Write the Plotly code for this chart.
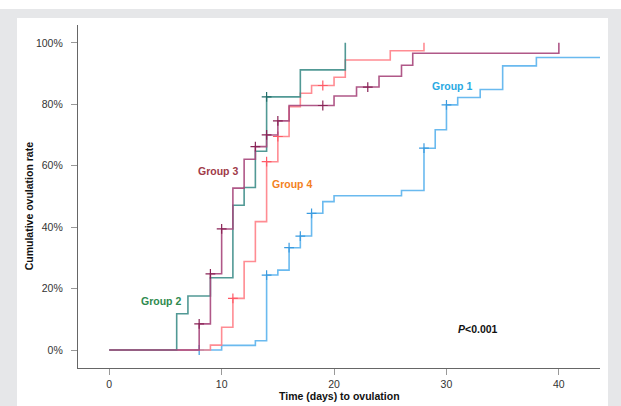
import plotly.graph_objects as go

# ---- data ----
g1_t = [0, 10, 13, 14, 15, 16, 17, 18, 19, 20, 26, 28, 29, 30, 31, 33, 35, 38, 44]
g1_v = [0, 1.5, 3.0, 24.4, 26.0, 33.3, 37.1, 44.5, 48.3, 50.2, 51.9, 65.7, 71.7, 79.8, 82.2, 84.8, 92.5, 95.2, 95.2]
g1_ct = [8, 14, 16, 17, 18, 28, 30]
g1_cv = [0, 24.4, 33.3, 37.1, 44.5, 65.7, 79.8]

g2_t = [0, 6, 7, 9, 11, 12, 13, 14, 17, 21]
g2_v = [0, 11.8, 17.6, 23.5, 47.1, 52.9, 64.7, 82.4, 91.2, 100]
g2_ct = [14]
g2_cv = [82.4]

g3_t = [0, 8, 9, 10, 11, 12, 13, 14, 15, 16, 20, 22, 24, 26, 27, 40]
g3_v = [0, 8.5, 24.8, 39.4, 52.7, 62.1, 66.2, 70.0, 74.6, 79.6, 82.7, 85.6, 89.1, 92.7, 96.6, 100]
g3_ct = [8, 9, 10, 13, 14, 15, 19, 23]
g3_cv = [8.5, 24.8, 39.4, 66.2, 70.0, 74.6, 79.6, 85.6]

g4_t = [0, 9, 10, 11, 12, 13, 14, 15, 16, 17, 18, 20, 21, 25, 28]
g4_v = [0, 1.6, 7.4, 16.8, 28.8, 41.8, 61.3, 69.5, 79.2, 83.6, 86.1, 88.8, 94.4, 97.4, 100]
g4_ct = [11, 14, 15, 19]
g4_cv = [16.8, 61.3, 69.5, 86.1]

x_ticks = [0, 10, 20, 30, 40]
y_ticks = [0, 20, 40, 60, 80, 100]
y_tick_labels = ["0%", "20%", "40%", "60%", "80%", "100%"]

groups = [
    ("Group 1", g1_t, g1_v, g1_ct, g1_cv, "#5ab3ee", "#3a9be0"),
    ("Group 4", g4_t, g4_v, g4_ct, g4_cv, "#ff8088", "#ff5a66"),
    ("Group 2", g2_t, g2_v, g2_ct, g2_cv, "#3f8e8a", "#226e6a"),
    ("Group 3", g3_t, g3_v, g3_ct, g3_cv, "#a8477c", "#8a2457"),
]

labels = [
    ("Group 1", 30.5, 85.9, "#2aa9e2"),
    ("Group 2", 4.6, 16.0, "#2e8a4e"),
    ("Group 3", 9.7, 58.3, "#a03a48"),
    ("Group 4", 16.3, 54.1, "#f37f22"),
]

FONT = "Liberation Sans, Arial"

fig = go.Figure()
for name, t, v, ct, cv, col, mcol in groups:
    fig.add_trace(go.Scatter(x=t, y=v, mode="lines", line=dict(color=col, width=1.6, shape="hv"),
                             opacity=0.9, name=name, showlegend=False, hoverinfo="skip"))
    fig.add_trace(go.Scatter(x=ct, y=cv, mode="markers",
                             marker=dict(symbol="cross-thin", size=7, line=dict(color=mcol, width=1.2)),
                             showlegend=False, hoverinfo="skip"))

ann = []
for txt, x, y, c in labels:
    ann.append(dict(x=x, y=y, xref="x", yref="y", text="<b>" + txt + "</b>", showarrow=False,
                    font=dict(family=FONT, size=10.5, color=c)))
ann.append(dict(x=32.8, y=6.8, xref="x", yref="y", text="<b><i>P</i>&lt;0.001</b>", showarrow=False,
                font=dict(family=FONT, size=10.5, color="#111")))
ann.append(dict(x=0.5, y=-0.081, xref="paper", yref="paper", yanchor="middle", xanchor="center",
                text="<b>Time (days) to ovulation</b>", showarrow=False,
                font=dict(family=FONT, size=10.5, color="#111")))
ann.append(dict(x=-0.094, y=0.474, xref="paper", yref="paper", xanchor="center", yanchor="middle",
                text="<b>Cumulative ovulation rate</b>", textangle=-90, showarrow=False,
                font=dict(family=FONT, size=10.5, color="#111")))

shapes = [
    dict(type="rect", xref="paper", yref="paper", x0=-0.16, x1=1.05, y0=-0.12, y1=1.0466,
         fillcolor="#e6e7e9", line=dict(width=0), layer="below"),
    dict(type="rect", xref="paper", yref="paper", x0=-0.1169, x1=1.0153, y0=-0.12, y1=1.0204,
         fillcolor="white", line=dict(width=0), layer="below"),
]

fig.update_layout(
    width=621, height=406,
    margin=dict(l=78, r=21, t=25, b=38),
    paper_bgcolor="white", plot_bgcolor="white",
    annotations=ann, shapes=shapes,
    font=dict(family=FONT, size=10.5, color="#333"),
    xaxis=dict(range=[-2.78, 43.66], tickvals=x_ticks, ticks="outside", ticklen=6, tickcolor="#999",
               showgrid=False, zeroline=False, showline=True, linecolor="#666", linewidth=1.3,
               tickfont=dict(size=10.5, color="#333")),
    yaxis=dict(range=[-5.86, 105.8], tickvals=y_ticks, ticktext=y_tick_labels, ticks="outside",
               ticklen=6, tickcolor="#999", showgrid=False, zeroline=False, showline=True,
               linecolor="#666", linewidth=1.3, ticklabelstandoff=6,
               tickfont=dict(size=10.5, color="#333")),
)

fig.write_html("out.html", config={"displayModeBar": False},
               post_script="document.body.style.margin='0';document.body.style.overflow='hidden';")
